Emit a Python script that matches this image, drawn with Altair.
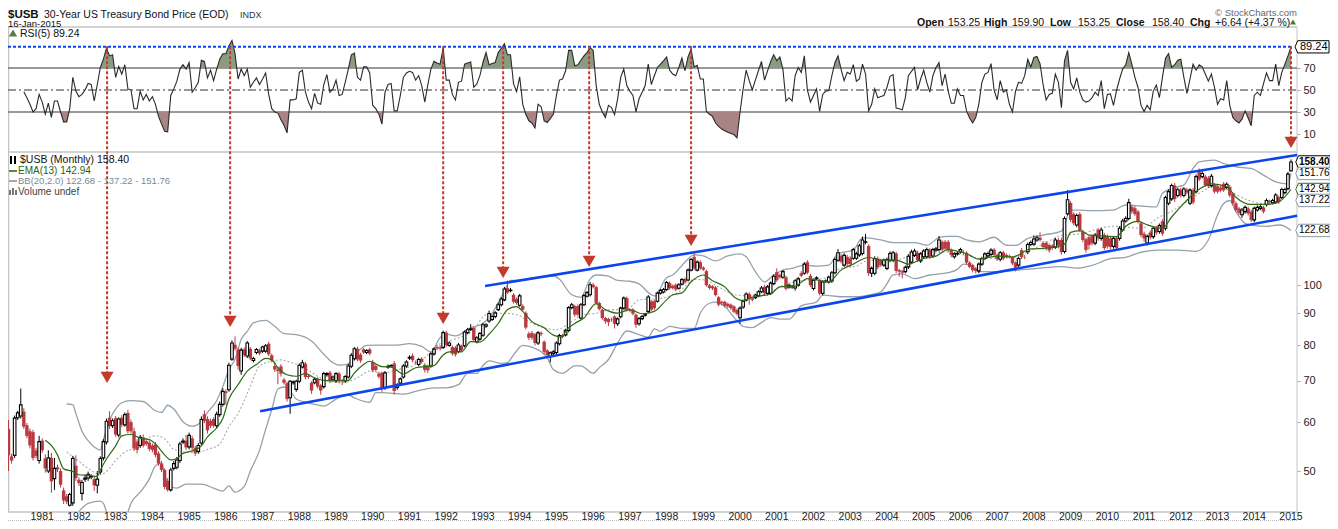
import altair as alt
import pandas as pd

# ---- monthly candles, Jan 1980 .. Jan 2015 ----
opens = [
 63.4,58.5,52.8,53,61,61.4,62.4,59.3,58,57.8,54,52,
 56,52.4,50,52.5,48.6,50.7,50,46.5,45.5,44,44.4,51,
 48.4,46,48.5,48.7,48.9,48.5,47.4,49.8,52.5,55.7,61,59.2,
 60.9,57.2,61,59.4,62.1,60,58,55.8,55,56.7,55.9,55.6,
 55,55.2,53.4,51.4,50.2,48.2,46.6,50.5,50.7,52,55.7,56,
 54.7,56.5,54.5,53.8,55.5,61.8,60.7,60.3,60.7,59.2,61.7,64.1,
 67.3,67.7,75.9,80.1,78.7,72.6,78.7,76.8,78.9,75.5,77.8,78.4,
 78.2,78.2,80.4,77,74,73,73.9,70.3,69.4,65.7,69.5,67.8,
 69.9,73.7,74.6,71.3,69.5,69.5,70.4,68.8,68.5,71.6,72.2,70.4,
 70,71.9,70.2,70,71,73.9,76,78.9,77.2,78.7,77.8,78.7,
 75.1,74,71.9,72.1,68.2,73.7,74,74.7,68.3,69.4,71,74,
 76.2,76.9,75,74.4,76,74.3,74,74,77.4,79.4,79.3,79.3,
 83.8,79.9,79.4,79.2,78.1,79.7,79.8,83.8,84.8,85.2,81,81.8,
 83,85.8,87.5,88,89,91.3,93,94.7,98.9,98,96.5,95,
 92.8,92.5,90.2,83.5,83.7,83.3,80.6,83.7,81,78.4,76.6,77.5,
 77.8,80.4,83,83.1,84.5,92,92.5,92.5,88.5,93,96,96.5,
 100.2,99.3,93.6,91.3,88.5,88.2,88.1,89,86.6,88.9,91.8,95.3,
 91.2,91.3,89.6,86.6,88.3,89.4,90.7,94.2,94.2,94.2,97.1,97.5,
 98.4,100.8,99.8,100.2,98.9,100.4,102.4,102,105.8,111.2,105.8,109,
 106.8,105.4,100,99.6,99.2,95.6,94,94,93.3,93,92.4,91.2,
 88.6,92.2,94.7,96.8,95.2,95.5,96.1,97.6,99.4,97,97,100.6,
 105,103.9,103,103,99.4,99.4,99,100,104.6,104.6,109,103.6,
 98.8,102.6,101.6,97,101.4,101.2,101.6,104.8,109.8,111.6,107.8,111.2,
 110.6,110.6,110.6,112,112.6,117.4,115.8,104.6,104.6,110.5,109.8,107.8,
 106.5,109.8,109.8,112.6,105.8,105.4,105.2,107.1,109,111.8,112.9,109.5,
 111.2,111.2,114.2,111.5,114,114.2,117.6,117.6,117.6,114,111.2,112.4,
 113.2,113.1,112.9,108.8,107.8,106.5,105.5,108.2,110.5,111.6,112.2,114.2,
 112,110.2,113,112,111.6,110.9,108.8,107.8,114,111,113.3,116.4,
 116.6,118.4,119.4,117.1,117.1,116.2,115.9,115.3,118.4,118.4,113.4,130.6,
 135.9,130.4,125.2,130.4,122.2,118.7,119.6,120.1,117,122.9,119.1,120.6,
 119.9,119.1,115.6,119.1,119.1,122.9,127.1,128.3,134,133.3,131.6,126,
 121.2,117,121.7,119.9,123.7,122.2,126.9,123.7,135.8,138,145.1,139.8,
 142.8,139.8,142.8,135.8,142.6,141.8,152.6,150,150,149.1,145,145.3,
 144.7,144,146,144,144.4,140.7,135.7,133.2,130.1,131.6,133.2,131.6,
 127.6,132.4,133.2,133.7,135.1,136.8,136,136.4,138.9,138.7,141.3,143.4,
 153.25]
closes = [
 58.6,53,52,60.9,62.1,64,59,57,55,52.5,52.9,55.8,
 54,50.5,52.5,48.1,50.5,50.3,47.5,44.8,44.6,45.8,52.4,48.7,
 47.8,47.9,48.7,49.4,49,47.4,48.5,52.4,55.8,60.2,59.1,60.3,
 57.3,60.7,59.4,61.7,58,58,54.4,54.1,56.7,55,55.3,54.3,
 54.1,53.1,51.4,50.2,47.1,46.6,50.2,51.4,52.1,55.3,55.9,54.6,
 57.1,54.5,53.4,55,60.6,60.3,58.2,59.2,59.2,61.8,64.1,67.3,
 66.9,74.2,80.6,78.9,74,78.5,77,80.6,76.1,76.1,78.7,77.5,
 79.4,79.8,77.3,75.5,73,72.6,71.9,69.5,65.4,69.9,69.7,69.9,
 74.2,74.9,71,71,67.5,70.4,68.5,67.5,71.9,71.9,70,71,
 71.9,70,69.9,71.1,74,77,78.9,75.8,75.5,77.8,78.4,77.5,
 72.8,72.9,71.1,68.2,72.1,73.9,74.1,67.4,69,70.5,74,75.1,
 76.4,75.6,74.9,75.8,75.1,72.9,72.8,77.4,78.8,79,78.9,83.8,
 80,80.6,77.5,77.2,80,78.4,84,84.7,85,81.5,82.2,83.5,
 86.3,86.3,90,89,90.2,93,95,98.6,97.3,98.2,94,93.6,
 96.1,91.3,85.4,82.2,82.2,80.6,83.7,83.3,78,77.1,77.7,78,
 80.6,82.9,82.6,84.5,92,93,89.6,89.6,93,96.2,97.3,100.2,
 99.3,93.6,91.5,88.5,87.4,87.1,88,86.6,88.2,91.8,95.3,91.3,
 91,89.9,86.3,88.3,89,89.6,95.7,91.3,91.8,97.1,98.1,98.4,
 101,98.9,98.9,98.4,100.2,102.1,101.1,105.8,110.1,106.5,109,106.5,
 106,100,99,98.8,96.4,93,93.5,92.6,92.4,91.8,90.6,89.9,
 91.8,94.2,96.8,95,94.7,96.4,97.6,99,97,99.4,100.8,103.4,
 101.9,103,105.2,98.7,100,99.6,101.7,102.4,103.6,108.2,104.8,100,
 101.9,102.8,97,101.2,101.6,103,104.8,110.1,112.9,109.2,111.8,108.2,
 108.2,114.2,112.4,115.9,118.4,117.6,104.6,106.5,110.5,106.9,107.8,109.8,
 110.1,112.6,112.9,105.5,105.2,104.8,106.9,111.4,113.2,113.6,109.8,112.4,
 113.6,114.2,111.2,114.2,114.6,118.4,114.2,114.6,114,111.9,112.4,112.6,
 114.2,112.9,108.8,107.1,105.8,105.5,108.2,110.5,112.4,112.6,114,112,
 110.2,112.9,110.5,111.2,111.2,108.5,106.8,110.5,111,110.9,116.4,117.3,
 118.8,119.4,118.4,115.3,114.9,113.9,114.9,118.4,116.2,113.1,128.3,137.6,
 127.6,126,129.7,122.9,118.4,114.1,116.2,117,120.6,119.1,122.9,114.9,
 115.6,115.3,119.1,114.9,123.7,127.1,128.3,136.1,131.6,130.4,126.9,120.6,
 119.1,120,119.6,123.7,121.7,124.9,121.2,138.7,141.8,145.1,138,142.8,
 139.8,143.2,141.3,142.6,136.2,150,148.4,151.7,145.3,144.7,150.2,141.8,
 141.8,142.4,142.6,145.8,139.8,135.7,132.4,131,132.4,133.7,130.7,127.6,
 133.2,133.7,134,131.6,137.2,136.4,137.2,140,136.4,142.9,142.9,151.4,
 158.4]
wick_up = [
 1.5,2,.5,.6,.5,4,.8,.5,.6,.5,.5,1.2,
 .5,.8,1.5,1,2,.5,.5,.5,.4,.3,.5,2,
 .4,.5,.6,.5,.4,.5,1.5,.4,.5,.6,1.5,.5,
 .5,.4,.6,.5,.7,.6,.8,.5,.5,.6,.4,.4,
 .4,.5,.4,.5,.3,.5,.4,.5,.6,.5,.6,1.2,
 .6,.5,.4,.5,.7,.9,.6,.5,.4,.6,.7,.8,
 .5,.7,.8,2.5,.6,.7,.6,.6,.5,.5,.4,.5,
 .4,.5,.6,.5,1.2,.8,.6,.5,.4,.3,.4,.4,
 .5,.8,.5,.5,.4,.5,.5,.4,.5,.4,.5,.4,
 .4,.5,.3,.4,.6,.6,.5,.6,.5,.4,.4,.5,
 .6,.5,.5,.4,.5,.5,.4,.7,.4,.4,.5,.5,
 .6,.6,.5,.5,.5,.5,.4,.5,.5,.7,.7,.6,
 .6,.5,.5,.5,.6,.4,.5,.6,1.5,.5,.5,.5,
 .6,.5,1,.6,.6,.7,.6,.8,2.9,.8,.6,.6,
 .7,.6,.5,.6,.6,.4,.6,.5,.4,.4,.4,.5,
 .5,.5,.4,.5,.5,.6,.5,.6,.6,.6,.6,1,
 .7,.5,.5,.4,.4,.4,.5,.4,.5,.5,.6,.6,
 .5,.5,.4,.5,.5,.5,.7,.5,.6,.6,.5,.6,
 .6,.6,.5,.5,.6,.6,.5,.7,.6,1.4,.7,.8,
 .5,.6,.5,.4,.5,.5,.4,.4,.4,.4,.4,.5,
 .6,.6,.6,.6,.5,.5,.6,.7,.8,.7,.6,.7,
 1.5,.6,.7,.6,.5,.5,.6,.7,.8,.8,.8,.7,
 .6,.6,.7,.6,.6,.6,.7,.8,1.6,.8,.9,.8,
 .8,.8,.9,.8,1.5,3.5,.7,.7,.9,.8,.6,.7,
 .8,.9,.8,.7,.5,.6,.7,.9,1,1,.8,.8,
 .8,.9,.7,.8,.8,1.8,.7,.8,.8,.7,.7,.8,
 .8,.7,.6,.6,.5,.5,.7,.7,.7,.8,.8,.7,
 .6,.7,.7,.6,.5,.6,.5,.7,.9,1,.9,.9,
 1.6,1,2.4,.8,.8,.7,.7,1,.9,1,1,5,
 1,1,1,1,.8,.7,.8,.8,.9,.9,1,1,
 .9,.8,1,.8,1,1,1,2,1,1,.8,.8,
 .9,.8,1,1,1,1,1,1,1.2,1,1.3,1,
 1,1,1,1,1.2,1.2,2,1.5,1,1.2,1.2,1,
 1,1,1,1,1,.9,1,.8,1,.9,.8,.9,
 .9,1,.9,.8,1,.8,.9,1,.8,1,1,1.2,
 1.5]
wick_dn = [
 2,3,.6,.5,.5,.6,.5,.5,.6,.5,.5,.6,
 .5,.8,.4,2,2,.5,.5,.6,.4,.2,.5,.5,
 .5,1.2,.5,.5,.4,1,1.4,.4,.5,.5,.6,.5,
 .5,.5,.5,.4,.5,.5,.5,.7,.5,.4,.4,.5,
 .5,.5,.4,.4,.4,.3,.3,.4,.4,.5,.4,.5,
 .5,.5,.5,.5,.4,.5,.7,.5,.4,.5,.5,.5,
 2.9,.5,.5,.5,1,1,.5,.6,.5,.5,.5,.5,
 .5,.5,.6,.5,.7,3.5,.8,.5,.6,3.8,.5,.6,
 .5,.4,.6,.5,.8,.4,.5,1,.5,.5,.6,.5,
 .5,.6,1,.5,.4,.5,.5,.5,.6,.4,.5,.5,
 .5,.5,.5,1,.5,.5,.5,.9,.6,.4,.4,.5,
 .5,.6,.4,.5,.5,.7,.7,.5,.5,.5,.5,.5,
 .6,.4,.6,.6,.5,.5,.5,.5,.5,.6,.5,.5,
 .5,.5,.6,.5,.6,.5,.6,.5,.5,.6,.6,.6,
 .5,.5,.6,.7,.6,.7,.6,.6,.7,.6,1.6,1,
 .6,.5,.5,.5,.6,.6,.7,.6,.6,.5,.5,.6,
 .5,.6,.5,.6,.8,1.2,.7,1.5,.7,.5,.5,.6,
 .6,.5,1,.6,.5,.5,.6,.5,.6,.5,.5,.5,
 .5,.6,.5,.6,.5,.5,.6,.5,.5,.7,.5,.6,
 .5,.5,.6,.6,.5,.6,.8,.6,.6,.6,.5,.6,
 2,.6,.6,2,.6,.5,.5,.5,.7,.7,.6,.6,
 .6,.5,.6,.6,.7,.7,1,.6,.6,.6,.6,.7,
 .7,.6,.7,.7,.6,.6,.7,.6,.7,.7,.7,.9,
 1.2,.7,.7,.8,.8,.9,1,1.5,.8,.8,.7,.7,
 .7,.8,.8,.8,2,2.2,.6,.8,.8,.7,.7,.8,
 .8,.7,.9,.8,.7,.8,.7,.8,.8,.9,.8,.7,
 .7,.7,.8,.6,.9,1,.9,.7,.7,.7,.7,.8,
 .7,.9,.8,.7,.7,.7,1.5,.8,.8,.7,1,.7,
 .8,.8,.7,1,1,.9,.8,.8,1.4,1,.8,.9,
 1,1,1,1,1,1.2,2,1,.9,1,1,.9,
 1,1,1,.9,1,.8,.8,.9,1,.9,1,1,
 1.5,1,1,1,1,1,1,1,1,1,1.5,1,
 1,1,1,1,1,1,1,1,1,1,1,1,
 1,1,1,1,1,1,1,1,1.5,1,1,1,
 1,.8,.9,.9,.9,.8,.8,1,1,.8,.9,.9,
 0]

# ---- RSI(5), monthly from Jul 1980 ----
rsi_vals = [
 48.5,43,37,30,33,46,
 39,28,38,25,40,40,30,21,21,33,61.5,49,
 44,46,50,56,55,40,55,70.5,78,88,81,82,
 61.5,71.5,64.5,73,51,50,33,33,49,41,46,40,
 44,37,26,19,12.5,12,45,51,58,69,73,69,
 75,48,52,57,77,76,61,68,58.5,69,78,83,
 83,90,95,83,60,69,63,69,52.5,57,61,55,
 60,65.5,46,33,30,29,23,18,11,41,41,42,
 66,68,48,39,33,47,38,37,55,64,48,51,
 59,45,46,57,69,82,83.5,61.5,59,71,71,65.5,
 36,33,28,19,48,55,56,31,31,45,61.5,65.5,
 67,66,59,63,54,39,55,69,76,74.5,73.5,88,
 59,59,46,41,57,58,73.5,74.5,75.5,52.5,55.5,63,
 75,84,73,74,75,84,88,92,82,82,55.5,48.5,
 62,37,28,22,20,15.5,37,35,22,20.5,24,28,
 45,59,60,67.5,86,86,72,73,77,81,84,88.5,
 86,54,37,30,25,36,34,27.5,42,61.5,69,54,
 49,45,30,42,48,54,73.5,55,63,70.5,73.5,76.5,
 80,68,64.5,63,70.5,79,67.5,80,87,71,72.5,60,
 60,30.5,28,26,20,17,14.5,13,11.5,10.5,9.5,6.5,
 30,51,68,58.5,50,59,67.5,76,59,67.5,76,82,
 76.5,80,69,40,43,40,63,70.5,66,81,50,39,
 45,51,30.5,46,49,49.5,63,75,81,69,58.5,66,
 64.5,73,58,60,73.5,64.5,31,37,51,43,44,45,
 52.5,62.5,64,33.5,33,32,43,63,67,70.5,50,60,
 68,57,48,63,70.5,75,54,64.5,49,38,38,51,
 45,45,31,24.5,20,25,37,57,64.5,66,74,50,
 41,58.5,48,50,37,30,49,57,56,63,78,71,
 79.5,80.5,74,55,41,46,47,64.5,57,34,76.5,86,
 57,51,61,48,41,39,40,43,48,45,58.5,33,
 46,46.5,36,49.5,60,69,73,84,73.5,61.5,52.5,36,
 30.5,36,32,49,54.5,43,61.5,79,83,70.5,73,77,
 78,61.5,47,60,73.5,68,73,71,64.5,58,64.5,52.5,
 37,42,41,58.5,36,25,22,20,23.5,31,24.5,17.5,
 45,48,45,55.5,65.5,58.5,58.5,73.5,54,66,73.5,81,
 89.24]

# ---- overlays: month number since Jan 1980, value ----
bb_up_m = [20,22,23,25,27,29,31,32,34,36,38,41,45,49,51,53,55,58,61,64,66,69,71,73,75,77,79,81,85,88,91,95,100,104,107,109,112,114,116,118,122,128,132,136,139,142,144,147,152,156,159,163,165,168,171,179,181,185,188,191,193,197,200,204,207,211,213,214,216,218,222,225,228,232,236,240,242,245,248,251,254,257,261,265,269,272,277,280,286,290,297,301,305,308,311,314,318,323,327,330,334,339,345,348,351,354,362,366,371,376,378,383,385,388,390,395,398,402,407,411,415,419,420]
bb_up_v = [64.2,64,62,58,56,54.7,54.1,56.2,60.5,63,64.5,65,64.8,62.6,62.2,63.9,63,60.1,59.1,60.1,62.2,65,68.5,73,75.9,81.7,84.2,86.9,87.7,85.8,83.5,83.2,81.2,77.3,74.9,74.2,74.5,77,78.8,79.9,80,80,80.4,79.6,78,82.2,83.3,82.8,85.3,86.7,90.1,97.8,101.8,101.8,102.3,103.5,102.3,96.5,95.6,102.3,103.9,103.5,101.8,101.5,100.5,96.5,96,98.9,102.8,103.9,109,112,111.6,109.5,111.6,112.4,111.2,105.2,101.3,103.9,105.8,106.5,107.8,107.4,107.8,112.6,114,119.4,118.4,117.2,117.2,116.1,119.4,120,120,118.4,117.6,119.6,116.1,116,119.1,120.6,122.4,132.4,132.4,132.1,132.4,134.9,134.4,134,140.9,144.4,145.3,154.6,158.5,159.5,157.5,155.6,154.6,150.8,147.1,146,151.76]
bb_lo_a_m = [24,27,31,32,33]
bb_lo_a_v = [43,44.3,44.7,44.3,42.9]
bb_lo_b_m = [40,41,44,47,49,51,52,54,56,59,64,68,71,73,75,78,80,83,85,87,89,91,93,95,98,102,104,108,112,114,119,121,123,130,135,140,144,148,151,154,156,158,162,164,166,169,172,175,177,179,182,186,188,192,194,197,200,203,207,210,212,214,217,221,225,227,230,232,235,239,241,244,247,250,253,256,260,265,267,273,278,282,286,288,290,293,297,302,308,311,313,315,318,324,331,338,345,350,355,361,366,371,377,383,389,393,396,398,400,402,405,408,412,416,418,420]
bb_lo_b_v = [42.9,44.3,46.2,48.5,51,51.5,49.2,47.2,46.9,47.6,47.6,46.9,46.4,47.3,46.2,47.2,50,54,58.4,62.9,67.9,68.4,67.4,65.4,64.6,64,63.7,65.4,66.4,65.7,64.6,67,67,66.6,67.5,68.2,68.2,69,72,72,74.1,75.4,74.7,74.9,77.1,79.9,79.4,78,76.3,73,72,74,74,72,73.5,75.8,80.6,84.3,83.2,82.4,85,84.2,85.8,85.1,85.1,90.1,93.5,93.9,92.4,87.6,85.8,85.4,87,88.6,88.1,88.1,92.6,94,96.4,95.8,95.8,96.4,97.6,100.6,103.9,104.3,102.5,103.9,104.8,106.1,108.2,107.8,105.2,105.2,105.8,106.6,107.2,106.6,107.7,110.4,111,113.1,114,114,113.5,118.4,130,135.7,137.2,131.6,126,124.9,124.6,125.2,124.6,122.68]
ema_m = [13,15,17,19,22,24,27,30,31,33,36,38,41,44,47,49,52,54,56,58,61,64,66,69,71,73,76,79,82,85,87,89,92,95,98,101,104,107,112,114,117,119,123,126,130,134,140,143,145,149,152,155,158,161,164,167,169,172,176,179,182,183,186,189,193,196,200,204,208,212,216,218,221,224,228,231,235,238,241,244,250,253,258,262,269,273,277,282,286,291,295,300,304,308,312,315,318,322,325,329,335,340,346,348,351,354,359,363,366,370,373,378,381,385,389,394,399,402,407,412,416,420]
ema_v = [56.1,55,53.1,50.4,49.9,49.3,49.2,49,50.2,52.3,54.9,57,57.3,56.5,56.2,55.3,53.1,52.1,52.4,53.4,53.9,54.9,56.8,58.7,60.8,65.4,69,72.6,74.4,76.1,75.7,73.5,71.6,71.2,71.9,70.8,70.1,70,70.1,72.1,74.4,75.3,73.8,73.7,71.8,73.5,74.1,77.1,78,78,81,80.9,83.3,86.7,91.3,92.3,90.7,87.3,85.3,83,82.4,84.2,86.7,88.5,93.4,91.3,90.1,91.3,89.9,90.7,94.7,96.5,97.2,101.3,103.9,101.7,99.4,95.8,94.4,95.6,96.8,99.4,99.7,102.5,101.3,105.8,108.2,110.9,109.8,109.8,108.2,110.5,111.5,114.2,113.2,111.9,110.2,111.2,111.5,111.1,114.5,114.8,116.6,121.8,122.6,120.6,120.1,119.9,124.6,126.9,125.3,123.7,129,135.7,141.9,146,144.4,138.9,135.2,135.2,136.5,142.94]
bb_mid_m = [20,23,27,31,33,36,40,43,46,49,52,55,62,66,70,73,76,80,83,87,90,92,97,102,105,110,115,119,123,128,133,137,141,146,153,157,162,167,171,176,180,185,189,193,198,203,207,214,220,225,229,232,239,245,250,255,260,267,273,278,282,290,297,302,308,313,319,329,339,346,350,362,371,377,381,385,390,396,400,406,411,416,420]
bb_mid_v = [53.7,52.3,50.5,49.3,49.9,52,54,54.4,56.4,57,56.4,54.2,53.5,54.2,55.3,59,62,68.6,74,75.3,75.7,75.3,73.8,71.2,70,69.5,70.8,72.6,72,73,74,76.3,79.9,81.5,84.7,89.6,90.1,89.6,87.3,85.3,84.7,87.3,89.6,90.1,91.3,91.3,94.7,95.2,97.6,102.2,101.9,100,96.4,96,97.6,100.4,101.7,102.5,106.5,107.4,109.8,109.8,112,112.6,113.2,112,110.5,111,116.6,120.7,121,124.6,123.7,129,131.8,135.7,140.9,145.3,142.1,137.4,135.7,137.22]
bb_mid_m = bb_mid_m[:len(bb_mid_v)]

# ---- trend channel and arrows ----
channel_upper_m = [156.7, 422]
channel_upper_v = [99.7, 162.6]
channel_lower_m = [83.2, 422]
channel_lower_v = [62.5, 129.6]
arrow_m = [33.2, 73.4, 143, 162.6, 190.7, 224, 420]
arrow_tip = [70.9, 87.4, 88.4, 104.9, 109.3, 118.2, 170.4]
arrow_top = 244

year_ticks = list(range(1981, 2016))
price_ticks = [50, 60, 70, 80, 90, 100, 110, 120, 130, 140, 150]
rsi_ticks = [10, 30, 50, 70]
tags_price = [("158.40", 158.4, "#000000", True), ("151.76", 151.76, "#8a97a3", False),
              ("142.94", 142.94, "#2f6b12", False), ("137.22", 137.22, "#8a97a3", False),
              ("122.68", 122.68, "#8a97a3", False)]

SANS = "Liberation Sans"
RED = "#b93a40"
ARROW = "#c4392a"
BLUE = "#0a45f0"
W, H = 1322, 513

xs = alt.Scale(domain=[1981, 2015], range=[34.2, 1283], padding=0, nice=False)
ps = alt.Scale(type="log", domain=[50, 100], range=[463, 277.24], nice=False)
rs = alt.Scale(domain=[10, 70], range=[126, 60], nice=False)


def yr(m):
    return 1980 + m / 12.0


X = alt.X("yr:Q", scale=xs, axis=None)
YP = alt.Y("v:Q", scale=ps, axis=None)
YR = alt.Y("v:Q", scale=rs, axis=None)


def series(ms, vs):
    return pd.DataFrame({"yr": [yr(m) for m in ms], "v": vs})


# candle table
cdf = pd.DataFrame({
    "yr": [yr(i) for i in range(len(closes))],
    "o": opens, "c": closes,
    "hi": [max(a, b) + u for a, b, u in zip(opens, closes, wick_up)],
    "lo": [min(a, b) - d for a, b, d in zip(opens, closes, wick_dn)],
})
up = cdf[cdf.c >= cdf.o]
dn = cdf[cdf.c < cdf.o]

# RSI fills with the crossings added so that the polygons end on the guides
rsi_m = list(range(6, 6 + len(rsi_vals)))


def fill_points(level, above):
    rows = []
    for k, (m, v) in enumerate(zip(rsi_m, rsi_vals)):
        if k:
            pm, pv = rsi_m[k - 1], rsi_vals[k - 1]
            if (pv - level) * (v - level) < 0:
                t = (level - pv) / (v - pv)
                rows.append((yr(pm + t * (m - pm)), level, level))
        rows.append((yr(m), max(v, level) if above else min(v, level), level))
    return pd.DataFrame(rows, columns=["yr", "v", "b"])


one = pd.DataFrame({"a": [0]})
layers = []


def text(t, x, y, size=10.5, color="#111111", bold=False, align="left", font=SANS):
    return alt.Chart(one).mark_text(
        text=t, align=align, baseline="middle", fontSize=size, color=color,
        font=font, fontWeight="bold" if bold else "normal"
    ).encode(x=alt.value(x - 8), y=alt.value(y - 8))


def hrule(y, x1, x2, color, width=1, dash=None):
    kw = {"strokeDash": dash} if dash else {}
    return alt.Chart(one).mark_rule(color=color, strokeWidth=width, **kw).encode(
        x=alt.value(x1 - 8), x2=alt.value(x2 - 8), y=alt.value(y - 8))


def vrule(x, y1, y2, color, width=1):
    return alt.Chart(one).mark_rule(color=color, strokeWidth=width).encode(
        x=alt.value(x - 8), y=alt.value(y1 - 8), y2=alt.value(y2 - 8))


# frames
FR = "#c4c4c4"
layers += [hrule(27, 8, 1297, FR, 1.5), hrule(152, 8, 1297, FR, 1.5), hrule(512, 8, 1297, FR, 1.5),
           hrule(520.5, 8, 1297, "#bbbbbb", 1, [1, 1]),
           vrule(8.5, 27, 512, FR, 1.5), vrule(1297, 27, 512, FR, 1)]

# RSI guide levels
for lev, dash in [(70, None), (30, None), (50, [8, 3, 2, 3])]:
    kw = {"strokeDash": dash} if dash else {}
    layers.append(alt.Chart(pd.DataFrame({"v": [lev]})).mark_rule(color="#777777", strokeWidth=1.3, **kw).encode(
        y=YR, x=alt.value(0), x2=alt.value(1289)))

layers.append(alt.Chart(fill_points(70, True)).mark_area(color="#8a9c80", opacity=1).encode(x=X, y=YR, y2=alt.Y2("b:Q")))
layers.append(alt.Chart(fill_points(30, False)).mark_area(color="#a88484", opacity=1).encode(x=X, y=YR, y2=alt.Y2("b:Q")))

rsi_axis = alt.Axis(orient="right", values=rsi_ticks, offset=-33, domain=False, grid=False, title=None,
                    tickColor="#aaaaaa", tickSize=3, labelFont=SANS, labelFontSize=11, labelColor="#222222",
                    labelPadding=3, labelOverlap=False)
layers.append(alt.Chart(series(rsi_m, rsi_vals)).mark_line(color="#2a2a2a", strokeWidth=1.1).encode(
    x=X, y=alt.Y("v:Q", scale=rs, axis=rsi_axis)))

layers.append(alt.Chart(pd.DataFrame({"v": [89.24]})).mark_rule(color=BLUE, strokeWidth=2, strokeDash=[3, 2]).encode(
    y=YR, x=alt.value(0), x2=alt.value(1285)))

# price overlays
price_axis = alt.Axis(orient="right", values=price_ticks, offset=-33, domain=False, grid=False, title=None,
                      tickColor="#aaaaaa", tickSize=3, format="d", labelFont=SANS, labelFontSize=11,
                      labelColor="#222222", labelPadding=3, labelOverlap=False)
BBC = "#95a1ab"
layers.append(alt.Chart(series(bb_up_m, bb_up_v)).mark_line(color=BBC, strokeWidth=1.3, interpolate="monotone").encode(
    x=X, y=alt.Y("v:Q", scale=ps, axis=price_axis)))
layers.append(alt.Chart(series(bb_lo_a_m, bb_lo_a_v)).mark_line(color=BBC, strokeWidth=1.3, interpolate="monotone").encode(x=X, y=YP))
layers.append(alt.Chart(series(bb_lo_b_m, bb_lo_b_v)).mark_line(color=BBC, strokeWidth=1.3, interpolate="monotone").encode(x=X, y=YP))
layers.append(alt.Chart(series(bb_mid_m, bb_mid_v)).mark_line(color="#a9a9a9", strokeWidth=1.1, strokeDash=[2, 2], interpolate="monotone").encode(x=X, y=YP))

# candles
layers.append(alt.Chart(dn).mark_rule(color=RED, strokeWidth=1).encode(x=X, y=alt.Y("lo:Q", scale=ps, axis=None), y2=alt.Y2("hi:Q")))
layers.append(alt.Chart(up).mark_rule(color="#000000", strokeWidth=1).encode(x=X, y=alt.Y("lo:Q", scale=ps, axis=None), y2=alt.Y2("hi:Q")))
layers.append(alt.Chart(dn).mark_bar(color=RED, size=3.4, orient="vertical").encode(x=X, y=alt.Y("o:Q", scale=ps, axis=None), y2=alt.Y2("c:Q")))
layers.append(alt.Chart(up).mark_bar(fill="#ffffff", stroke="#000000", strokeWidth=1.1, size=2.6, orient="vertical").encode(x=X, y=alt.Y("o:Q", scale=ps, axis=None), y2=alt.Y2("c:Q")))

layers.append(alt.Chart(series(ema_m, ema_v)).mark_line(color="#2f6b12", strokeWidth=1.2, interpolate="monotone").encode(x=X, y=YP))

# channel
layers.append(alt.Chart(series(channel_upper_m, channel_upper_v)).mark_line(color=BLUE, strokeWidth=2.6).encode(x=X, y=YP))
layers.append(alt.Chart(series(channel_lower_m, channel_lower_v)).mark_line(color=BLUE, strokeWidth=2.6).encode(x=X, y=YP))

# arrows
adf = pd.DataFrame({"yr": [yr(m) for m in arrow_m], "top": [arrow_top] * len(arrow_m), "v": arrow_tip})
layers.append(alt.Chart(adf).mark_rule(color=ARROW, strokeWidth=2, strokeDash=[3, 2]).encode(
    x=X, y=alt.Y("top:Q", scale=ps, axis=None), y2=alt.Y2("v:Q")))
layers.append(alt.Chart(adf).mark_point(shape="triangle-down", size=169, filled=True, color=ARROW, opacity=1).encode(x=X, y=YP))

# year labels on the time scale
ydf = pd.DataFrame({"yr": year_ticks, "t": [str(y) for y in year_ticks]})
layers.append(alt.Chart(ydf).mark_text(align="center", baseline="middle", font=SANS, fontSize=10.5, color="#222222").encode(
    x=X, y=alt.value(508.5), text="t:N"))

# value tags
TAG = "M-1,0L-0.84,-0.36L1,-0.36L1,0.36L-0.84,0.36Z"
for label, val, col, bold in tags_price:
    d = pd.DataFrame({"v": [val], "t": [label]})
    layers.append(alt.Chart(d).mark_point(shape=TAG, size=1190, filled=True, fill="#ffffff", stroke=col, strokeWidth=1, opacity=1).encode(
        x=alt.value(1313 - 8), y=YP))
    layers.append(alt.Chart(d).mark_text(align="left", baseline="middle", font=SANS, fontSize=10,
                                         fontWeight="bold" if bold else "normal", color="#000000").encode(
        x=alt.value(1299 - 8), y=YP, text="t:N"))
d = pd.DataFrame({"v": [89.24], "t": ["89.24"]})
layers.append(alt.Chart(d).mark_point(shape=TAG, size=1156, filled=True, fill="#ffffff", stroke="#000000", strokeWidth=1, opacity=1).encode(
    x=alt.value(1312 - 8), y=YR))
layers.append(alt.Chart(d).mark_text(align="left", baseline="middle", font=SANS, fontSize=11, color="#000000").encode(
    x=alt.value(1300 - 8), y=YR, text="t:N"))

# header texts
layers += [
    text("$USB", 8, 14.5, 11.5, "#111111", True),
    text("30-Year US Treasury Bond Price (EOD)", 44, 14.5, 10.5),
    text("INDX", 240, 14.5, 9, "#333333"),
    text("16-Jan-2015", 8, 24, 9.5),
    text("© StockCharts.com", 1297, 12.5, 9.5, "#666666", align="right"),
    text("Open", 917, 22.5, 10.5, bold=True), text("153.25", 948, 22.5, 10.5),
    text("High", 984, 22.5, 10.5, bold=True), text("159.90", 1012, 22.5, 10.5),
    text("Low", 1050, 22.5, 10.5, bold=True), text("153.25", 1078, 22.5, 10.5),
    text("Close", 1116, 22.5, 10.5, bold=True), text("158.40", 1152, 22.5, 10.5),
    text("Chg", 1190, 22.5, 10.5, bold=True), text("+6.64 (+4.37 %)", 1215, 22.5, 10.5),
    text("RSI(5) 89.24", 20, 33.5, 10.5),
    text("$USB (Monthly) 158.40", 20, 159.5, 10.5),
    text("EMA(13) 142.94", 18, 170.5, 10, "#2f5f10"),
    text("BB(20,2.0) 122.68 - 137.22 - 151.76", 18, 181, 9.5, "#7c8a96"),
    text("Volume undef", 18, 191.5, 10, "#444444"),
]
# small legend glyphs
layers += [
    hrule(171, 9, 17, "#2f6b12", 1.6), hrule(181, 9, 17, "#8a97a3", 1.6),
    vrule(10, 190, 195, "#555555", 1.6), vrule(13, 188, 195, "#555555", 1.6), vrule(16, 190, 195, "#555555", 1.6),
    vrule(11, 156, 164, "#000000", 2), vrule(15, 156, 164, "#000000", 2),
    alt.Chart(one).mark_point(shape="triangle-up", size=70, filled=True, color="#5c7a50", opacity=1).encode(
        x=alt.value(13 - 8), y=alt.value(33 - 8)),
    alt.Chart(one).mark_point(shape="triangle-up", size=36, filled=True, color="#3f7d2a", opacity=1).encode(
        x=alt.value(1293 - 8), y=alt.value(22 - 8)),
]

chart = alt.layer(*layers).resolve_scale(y="independent").properties(
    width=W, height=H, padding=0, autosize=alt.AutoSizeParams(type="none"), background="#ffffff"
).configure_view(stroke=None)

chart.save("out.html", embed_options={"renderer": "svg", "actions": False})
